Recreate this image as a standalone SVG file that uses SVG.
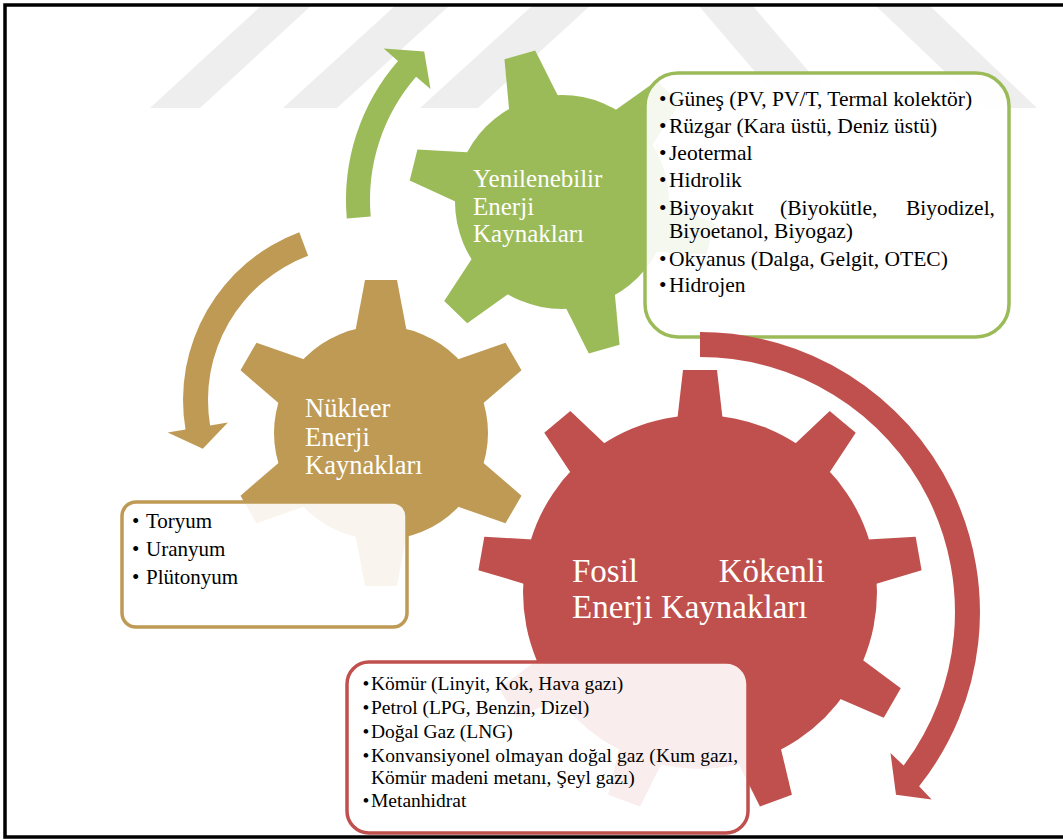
<svg xmlns="http://www.w3.org/2000/svg" width="1063" height="840" viewBox="0 0 1063 840">
<style>
.wm{fill:#EEEEEE}
.red{fill:#C0504D}
.grn{fill:#9BBB59}
.tan{fill:#BE9A55}
.gt{font-family:"Liberation Serif","Times New Roman",serif;fill:#FFFFFF}
.box{fill:#FFFFFF;fill-opacity:0.9;stroke-width:3.5}
</style>
<defs>
<path id="t9" d="M-23,-170 L-17,-222 L17,-222 L23,-170 Z"/>
<path id="t6" d="M-26,-100 L-16,-153 L16,-153 L26,-100 Z"/>
</defs>
<rect width="1063" height="840" fill="#FFFFFF"/>
<g id="watermark" class="wm">
<polygon points="150,108 200,108 312,5 262,5"/>
<polygon points="283,108 337,108 450,5 396,5"/>
<polygon points="420,108 478,108 591,5 533,5"/>
<polygon points="786,108 840,108 752,5 698,5"/>
<polygon points="983,108 1037,108 929,5 875,5"/>
</g>
<g id="node-fosil">
<g class="red" transform="translate(700,592)">
<circle r="177"/>
<use href="#t9"/>
<use href="#t9" transform="rotate(40)"/>
<use href="#t9" transform="rotate(80)"/>
<use href="#t9" transform="rotate(120)"/>
<use href="#t9" transform="rotate(160)"/>
<use href="#t9" transform="rotate(200)"/>
<use href="#t9" transform="rotate(240)"/>
<use href="#t9" transform="rotate(280)"/>
<use href="#t9" transform="rotate(320)"/>
</g>
<text class="gt" font-size="33" x="572" y="582">Fosil</text>
<text class="gt" font-size="33" x="825" y="582" text-anchor="end">Kökenli</text>
<text class="gt" font-size="33" x="572" y="618">Enerji Kaynakları</text>
<rect class="box" x="347" y="662" width="401" height="171" rx="22" stroke="#C0504D"/>
<g font-family="Liberation Serif, Times New Roman, serif" fill="#000000" font-size="19.5">
<text x="362.5" y="690">•</text>
<text x="371" y="690">Kömür (Linyit, Kok, Hava gazı)</text>
<text x="362.5" y="714">•</text>
<text x="371" y="714">Petrol (LPG, Benzin, Dizel)</text>
<text x="362.5" y="738">•</text>
<text x="371" y="738">Doğal Gaz (LNG)</text>
<text x="362.5" y="762">•</text>
<text x="371" y="762" textLength="367" lengthAdjust="spacing">Konvansiyonel olmayan doğal gaz (Kum gazı,</text>
<text x="371" y="784">Kömür madeni metanı, Şeyl gazı)</text>
<text x="362.5" y="807">•</text>
<text x="371" y="807">Metanhidrat</text>
</g>
</g>
<g id="node-nukleer">
<g class="tan" transform="translate(381,433)">
<circle r="107"/>
<use href="#t6"/>
<use href="#t6" transform="rotate(60)"/>
<use href="#t6" transform="rotate(120)"/>
<use href="#t6" transform="rotate(180)"/>
<use href="#t6" transform="rotate(240)"/>
<use href="#t6" transform="rotate(300)"/>
</g>
<text class="gt" font-size="26.5" x="305" y="417">Nükleer</text>
<text class="gt" font-size="26.5" x="305" y="445.5">Enerji</text>
<text class="gt" font-size="26.5" x="305" y="474">Kaynakları</text>
<rect class="box" x="122" y="502" width="285" height="125" rx="14" stroke="#BE9A55"/>
<g font-family="Liberation Serif, Times New Roman, serif" fill="#000000" font-size="21">
<text x="132" y="528">•</text>
<text x="146" y="528">Toryum</text>
<text x="132" y="556">•</text>
<text x="146" y="556">Uranyum</text>
<text x="132" y="584">•</text>
<text x="146" y="584">Plütonyum</text>
</g>
</g>
<g id="node-yenilenebilir">
<g class="grn" transform="translate(562,202)">
<circle r="107"/>
<use href="#t6" transform="rotate(-16)"/>
<use href="#t6" transform="rotate(44)"/>
<use href="#t6" transform="rotate(104)"/>
<use href="#t6" transform="rotate(164)"/>
<use href="#t6" transform="rotate(224)"/>
<use href="#t6" transform="rotate(284)"/>
</g>
<text class="gt" font-size="25" x="473" y="187">Yenilenebilir</text>
<text class="gt" font-size="25" x="473" y="215">Enerji</text>
<text class="gt" font-size="25" x="473" y="242">Kaynakları</text>
<rect class="box" x="645" y="73" width="364" height="264" rx="33" stroke="#9BBB59"/>
<g font-family="Liberation Serif, Times New Roman, serif" fill="#000000" font-size="21.5">
<text x="659" y="106">•</text>
<text x="669" y="106">Güneş (PV, PV/T, Termal kolektör)</text>
<text x="659" y="133">•</text>
<text x="669" y="133">Rüzgar (Kara üstü, Deniz üstü)</text>
<text x="659" y="160">•</text>
<text x="669" y="160">Jeotermal</text>
<text x="659" y="187">•</text>
<text x="669" y="187">Hidrolik</text>
<text x="659" y="215">•</text>
<text x="669" y="215">Biyoyakıt</text>
<text x="780" y="215">(Biyokütle,</text>
<text x="995" y="215" text-anchor="end">Biyodizel,</text>
<text x="669" y="238">Biyoetanol, Biyogaz)</text>
<text x="659" y="266">•</text>
<text x="669" y="266">Okyanus (Dalga, Gelgit, OTEC)</text>
<text x="659" y="292">•</text>
<text x="669" y="292">Hidrojen</text>
</g>
</g>
<g id="connectors">
<path class="grn" d="M346.8,218.5 A212,212 0 0 1 398.0,60.9 L383.7,48.5 L424.2,51.4 L430.5,89.1 L416.1,76.7 A188,188 0 0 0 370.7,216.4 Z"/>
<path class="tan" d="M299.3,232.3 A179,179 0 0 0 185.5,429.5 L167.7,432.5 L202.8,448.7 L227.9,422.4 L210.1,425.4 A154,154 0 0 1 308.1,255.8 Z"/>
<path class="red" d="M700,332 A280,280 0 0 1 919.1,786.3 L931.6,799.5 L896,794.8 L890.5,753 L903.6,765.5 A255,255 0 0 0 700,357 Z"/>
</g>
<rect x="5" y="5" width="1080" height="832" fill="none" stroke="#000000" stroke-width="3.5"/>
</svg>
